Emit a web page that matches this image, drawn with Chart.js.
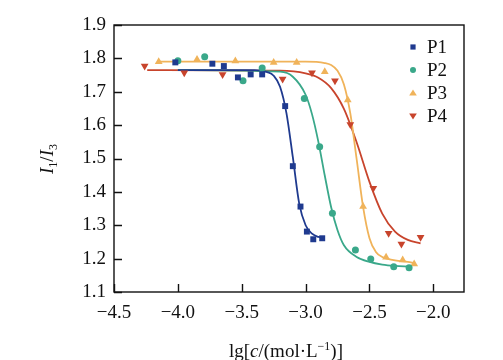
<!DOCTYPE html>
<html>
<head>
<meta charset="utf-8">
<script src="https://cdn.jsdelivr.net/npm/chart.js@4.4.1/dist/chart.umd.min.js"></script>
<style>
  html, body { margin: 0; padding: 0; background: #fff; }
  #wrap { width: 503px; height: 360px; }
</style>
</head>
<body>
<div id="wrap"><canvas id="myChart" width="503" height="360"></canvas></div>
<script>
// measured points
const p1X = [-4.02, -3.73, -3.64, -3.53, -3.43, -3.34, -3.16, -3.10, -3.04, -2.99, -2.94, -2.87];
const p1Y = [1.788, 1.784, 1.777, 1.743, 1.752, 1.752, 1.657, 1.477, 1.356, 1.281, 1.258, 1.261];
const p2X = [-4.00, -3.79, -3.49, -3.34, -3.01, -2.89, -2.79, -2.61, -2.49, -2.31, -2.19];
const p2Y = [1.793, 1.805, 1.733, 1.771, 1.680, 1.535, 1.336, 1.226, 1.199, 1.176, 1.173];
const p3X = [-4.15, -3.85, -3.55, -3.25, -3.07, -2.85, -2.67, -2.55, -2.37, -2.24, -2.15];
const p3Y = [1.790, 1.797, 1.792, 1.788, 1.788, 1.760, 1.675, 1.356, 1.204, 1.196, 1.184];
const p4X = [-4.26, -3.95, -3.65, -3.18, -2.95, -2.77, -2.65, -2.47, -2.35, -2.25, -2.10];
const p4Y = [1.777, 1.757, 1.752, 1.738, 1.757, 1.733, 1.602, 1.411, 1.276, 1.244, 1.264];

// fitted curves
const fit1X = [-4.00, -3.40, -3.30, -3.25, -3.20, -3.15, -3.10, -3.05, -3.00, -2.95, -2.90, -2.87];
const fit1Y = [1.765, 1.765, 1.759, 1.748, 1.715, 1.636, 1.504, 1.365, 1.300, 1.275, 1.265, 1.263];
const fit2X = [-4.00, -3.20, -3.10, -3.00, -2.95, -2.90, -2.85, -2.80, -2.75, -2.70, -2.60, -2.50, -2.40, -2.30, -2.19];
const fit2Y = [1.765, 1.760, 1.745, 1.691, 1.633, 1.550, 1.449, 1.354, 1.285, 1.240, 1.205, 1.190, 1.182, 1.178, 1.176];
const fit3X = [-4.15, -3.00, -2.85, -2.80, -2.75, -2.70, -2.65, -2.60, -2.55, -2.50, -2.45, -2.40, -2.30, -2.20, -2.15];
const fit3Y = [1.790, 1.790, 1.786, 1.780, 1.763, 1.722, 1.635, 1.497, 1.355, 1.261, 1.220, 1.205, 1.195, 1.190, 1.187];
const fit4X = [-4.24, -3.20, -3.00, -2.90, -2.80, -2.70, -2.60, -2.50, -2.40, -2.30, -2.20, -2.10];
const fit4Y = [1.765, 1.763, 1.755, 1.742, 1.711, 1.649, 1.548, 1.430, 1.335, 1.281, 1.256, 1.246];

const seriesNames = ['P1', 'P2', 'P3', 'P4'];
const colors = ['rgb(31, 58, 143)', 'rgb(58, 168, 138)', 'rgb(240, 179, 90)', 'rgb(200, 68, 44)'];

const serif = '"Liberation Serif", "DejaVu Serif", serif';
const textColor = '#111';

function pts(xs, ys) {
    return xs.map((x, i) => ({ x: x, y: ys[i] }));
}

const pointSets = [[p1X, p1Y], [p2X, p2Y], [p3X, p3Y], [p4X, p4Y]];
const fitSets = [[fit1X, fit1Y], [fit2X, fit2Y], [fit3X, fit3Y], [fit4X, fit4Y]];
const styles = [
    { pointStyle: 'rect', radius: 4.2, rotation: 0 },
    { pointStyle: 'circle', radius: 3.5, rotation: 0 },
    { pointStyle: 'triangle', radius: 4.5, rotation: 0 },
    { pointStyle: 'triangle', radius: 4.5, rotation: 180 }
];

const datasets = [];
pointSets.forEach((s, i) => {
    datasets.push({
        label: seriesNames[i],
        data: pts(s[0], s[1]),
        showLine: false,
        pointStyle: styles[i].pointStyle,
        pointRadius: styles[i].radius,
        pointRotation: styles[i].rotation,
        backgroundColor: colors[i],
        borderColor: colors[i],
        borderWidth: 0,
        order: 0
    });
});
fitSets.forEach((s, i) => {
    datasets.push({
        label: seriesNames[i] + ' fit',
        data: pts(s[0], s[1]),
        showLine: true,
        pointRadius: 0,
        borderColor: colors[i],
        borderWidth: 1.8,
        cubicInterpolationMode: 'monotone',
        fill: false,
        order: 1
    });
});

function fmt(v) {
    const s = Number(v).toFixed(1);
    return s.replace('-', '\u2212');
}

// box, inward ticks, axis titles and legend
const decor = {
    id: 'decor',
    afterDraw(chart) {
        const ctx = chart.ctx;
        const a = chart.chartArea;
        const xs = chart.scales.x, ys = chart.scales.y;
        ctx.save();
        ctx.strokeStyle = '#111';
        ctx.lineWidth = 1.4;
        ctx.strokeRect(a.left, a.top, a.right - a.left, a.bottom - a.top);
        ctx.beginPath();
        xs.ticks.forEach(t => {
            const px = Math.round(xs.getPixelForValue(t.value)) + 0.5;
            ctx.moveTo(px, a.bottom);
            ctx.lineTo(px, a.bottom - 8);
        });
        ys.ticks.forEach(t => {
            const py = Math.round(ys.getPixelForValue(t.value)) + 0.5;
            ctx.moveTo(a.left, py);
            ctx.lineTo(a.left + 8, py);
        });
        ctx.stroke();

        ctx.fillStyle = textColor;
        // x title
        const xParts = [
            { t: 'lg[', f: '19px ' + serif, dy: 0 },
            { t: 'c', f: 'italic 19px ' + serif, dy: 0 },
            { t: '/(mol\u00b7L', f: '19px ' + serif, dy: 0 },
            { t: '\u22121', f: '12px ' + serif, dy: -7 },
            { t: ')]', f: '19px ' + serif, dy: 0 }
        ];
        drawParts(ctx, xParts, 286, 357);

        // y title, rotated
        ctx.save();
        ctx.translate(48, 159);
        ctx.rotate(-Math.PI / 2);
        const yParts = [
            { t: 'I', f: 'italic 19px ' + serif, dy: 0 },
            { t: '1', f: '12px ' + serif, dy: 4 },
            { t: '/', f: '19px ' + serif, dy: 0 },
            { t: 'I', f: 'italic 19px ' + serif, dy: 0 },
            { t: '3', f: '12px ' + serif, dy: 4 }
        ];
        drawParts(ctx, yParts, 0, 5);
        ctx.restore();

        // legend
        const rows = [47, 70, 93, 116];
        rows.forEach((ry, i) => {
            const mx = 413;
            ctx.fillStyle = colors[i];
            ctx.beginPath();
            if (i === 0) {
                ctx.rect(mx - 2.6, ry - 2.6, 5.2, 5.2);
            } else if (i === 1) {
                ctx.arc(mx, ry, 3, 0, Math.PI * 2);
            } else if (i === 2) {
                ctx.moveTo(mx, ry - 3.6);
                ctx.lineTo(mx + 3.8, ry + 2.6);
                ctx.lineTo(mx - 3.8, ry + 2.6);
                ctx.closePath();
            } else {
                ctx.moveTo(mx, ry + 3.6);
                ctx.lineTo(mx + 3.8, ry - 2.6);
                ctx.lineTo(mx - 3.8, ry - 2.6);
                ctx.closePath();
            }
            ctx.fill();
            ctx.fillStyle = textColor;
            ctx.font = '19px ' + serif;
            ctx.textBaseline = 'middle';
            ctx.textAlign = 'left';
            ctx.fillText(seriesNames[i], 427, ry + 1);
        });
        ctx.restore();
    }
};

function drawParts(ctx, parts, cx, baseline) {
    ctx.textBaseline = 'alphabetic';
    ctx.textAlign = 'left';
    let w = 0;
    parts.forEach(p => { ctx.font = p.f; w += ctx.measureText(p.t).width; });
    let x = cx - w / 2;
    parts.forEach(p => {
        ctx.font = p.f;
        ctx.fillText(p.t, x, baseline + p.dy);
        x += ctx.measureText(p.t).width;
    });
}

const config = {
    type: 'scatter',
    data: { datasets: datasets },
    options: {
        responsive: false,
        animation: false,
        layout: { padding: { top: 25, right: 39, left: 0, bottom: 0 } },
        plugins: {
            legend: { display: false },
            tooltip: { enabled: false }
        },
        scales: {
            x: {
                type: 'linear',
                min: -4.5,
                max: -1.76,
                afterFit: s => { s.height = 68; },
                grid: { display: false, drawTicks: false },
                border: { display: false },
                ticks: {
                    stepSize: 0.5,
                    includeBounds: false,
                    autoSkip: false,
                    maxRotation: 0,
                    padding: 10,
                    color: textColor,
                    font: { family: serif, size: 19 },
                    callback: v => fmt(v)
                }
            },
            y: {
                type: 'linear',
                min: 1.1,
                max: 1.9,
                afterFit: s => { s.width = 114; },
                grid: { display: false, drawTicks: false },
                border: { display: false },
                ticks: {
                    stepSize: 0.1,
                    padding: 8,
                    color: textColor,
                    font: { family: serif, size: 19 },
                    callback: v => fmt(v)
                }
            }
        }
    },
    plugins: [decor]
};

const ctx = document.getElementById('myChart').getContext('2d');
new Chart(ctx, config);
</script>
</body>
</html>
